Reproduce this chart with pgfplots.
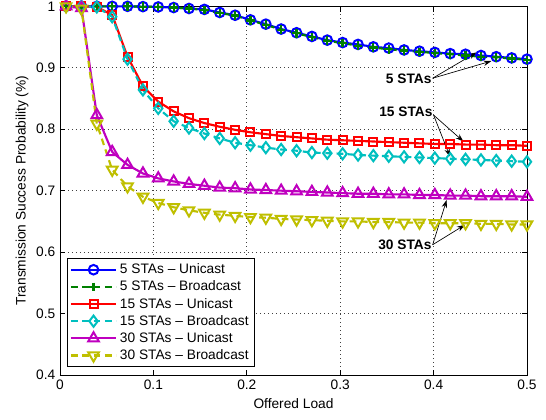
\documentclass[border=0pt]{standalone}
\usepackage{fontspec}
\setmainfont{Liberation Sans}
\usepackage{pgfplots}
\usepackage{pgfplotstable}
\pgfplotsset{compat=1.18}
\usetikzlibrary{arrows.meta}

\definecolor{mblue}{rgb}{0,0,1}
\definecolor{mgreen}{rgb}{0,0.5,0}
\definecolor{mred}{rgb}{1,0,0}
\definecolor{mcyan}{rgb}{0,0.75,0.75}
\definecolor{mmag}{rgb}{0.75,0,0.75}
\definecolor{myel}{rgb}{0.75,0.75,0}

\pgfplotstableread{
x u5 b5 u15 b15 u30 b30
0.0065 1.000 1.000 1.000 1.000 1.000 1.000
0.0230 1.000 1.000 1.000 1.000 0.997 0.996
0.0394 1.000 1.000 0.999 0.999 0.823 0.809
0.0559 1.000 1.000 0.986 0.983 0.763 0.734
0.0723 1.000 1.000 0.918 0.914 0.742 0.707
0.0888 0.9995 0.9995 0.870 0.864 0.728 0.690
0.1052 0.999 0.999 0.845 0.834 0.720 0.680
0.1217 0.998 0.998 0.829 0.813 0.715 0.673
0.1381 0.9965 0.9963 0.818 0.802 0.711 0.668
0.1546 0.995 0.994 0.810 0.793 0.708 0.664
0.1710 0.990 0.989 0.804 0.785 0.705 0.661
0.1875 0.9855 0.985 0.799 0.778 0.704 0.659
0.2039 0.978 0.977 0.795 0.774 0.702 0.657
0.2204 0.971 0.970 0.792 0.770 0.701 0.656
0.2368 0.963 0.962 0.789 0.767 0.700 0.654
0.2533 0.957 0.956 0.787 0.765 0.699 0.653
0.2697 0.951 0.950 0.785 0.762 0.698 0.652
0.2862 0.945 0.944 0.783 0.761 0.697 0.651
0.3026 0.941 0.940 0.782 0.760 0.696 0.650
0.3191 0.938 0.936 0.781 0.758 0.695 0.650
0.3355 0.934 0.933 0.780 0.757 0.695 0.649
0.3520 0.932 0.930 0.779 0.756 0.694 0.649
0.3684 0.929 0.928 0.778 0.755 0.694 0.648
0.3849 0.927 0.926 0.777 0.754 0.693 0.648
0.4013 0.925 0.924 0.776 0.753 0.693 0.647
0.4178 0.923 0.922 0.776 0.752 0.692 0.647
0.4342 0.922 0.920 0.775 0.751 0.692 0.647
0.4507 0.920 0.918 0.775 0.750 0.691 0.646
0.4671 0.918 0.917 0.774 0.749 0.691 0.646
0.4836 0.916 0.915 0.774 0.748 0.691 0.645
0.5000 0.914 0.913 0.773 0.747 0.690 0.645
}\data

\begin{document}
\begin{tikzpicture}
\begin{axis}[
  scale only axis,
  width=350.25pt, height=276.5pt,
  xmin=0, xmax=0.5, ymin=0.4, ymax=1,
  xtick={0,0.1,0.2,0.3,0.4,0.5},
  xticklabels={0,0.1,0.2,0.3,0.4,0.5},
  ytick={0.4,0.5,0.6,0.7,0.8,0.9,1},
  yticklabels={0.4,0.5,0.6,0.7,0.8,0.9,1},
  /pgf/number format/assume math mode=true,
  grid=major,
  major grid style={black!75, line width=0.5pt, dash pattern=on 0.6pt off 2.4pt},
  tick style={black, line width=0.5pt},
  major tick length=4pt,
  axis line style={line width=0.7pt},
  tick label style={font=\fontsize{10.3}{12}\selectfont},
  label style={font=\fontsize{10.3}{12}\selectfont},
  xlabel={Offered Load},
  ylabel={Transmission Success Probability (\%)},
  xlabel style={at={(axis description cs:0.5,-0.0786)}, anchor=center},
  ylabel style={at={(axis description cs:-0.0814,0.5)}, anchor=center},
  clip=false,
  legend cell align=left,
  legend style={at={(0.0143,0.021)}, anchor=south west, draw=black, line width=0.7pt,
    fill=white, font=\fontsize{10.3}{12}\selectfont, row sep=-0.1pt, inner sep=2pt},
  legend image code/.code={\draw[mark repeat=2,mark phase=2] plot coordinates {(0pt,0pt)(17pt,0pt)(34pt,0pt)};},
]
\coordinate (sw) at (rel axis cs:0,0);
\addplot[color=mblue, line width=1.6pt, mark=o, mark size=3.6pt, mark options={solid, line width=1.5pt}] table[x=x,y=u5]{\data};
\addlegendentry{5 STAs -- Unicast}
\addplot[color=mgreen, line width=1.6pt, dash pattern=on 5pt off 3.5pt, mark=+, mark size=3.2pt, mark options={solid, line width=1.7pt}] table[x=x,y=b5]{\data};
\addlegendentry{5 STAs -- Broadcast}
\addplot[color=mred, line width=1.6pt, mark=square, mark size=3pt, mark options={solid, line width=1.5pt}] table[x=x,y=u15]{\data};
\addlegendentry{15 STAs -- Unicast}
\addplot[color=mcyan, line width=1.6pt, dash pattern=on 5pt off 3.5pt, mark=diamond, mark size=4.2pt, mark options={solid, line width=1.5pt}] table[x=x,y=b15]{\data};
\addlegendentry{15 STAs -- Broadcast}
\addplot[color=mmag, line width=1.6pt, mark=triangle, mark size=4.6pt, mark options={solid, line width=1.5pt}] table[x=x,y=u30]{\data};
\addlegendentry{30 STAs -- Unicast}
\addplot[color=myel, line width=1.6pt, dash pattern=on 5pt off 3.5pt, mark=triangle, mark size=4.6pt, mark options={solid, rotate=180, line width=1.5pt}] table[x=x,y=b30]{\data};
\addlegendentry{30 STAs -- Broadcast}

\node[anchor=east, font=\fontsize{10.3}{12}\selectfont\bfseries, inner sep=1pt] at (axis cs:0.3995,0.8818) {5 STAs};
\draw[-{Stealth[length=6pt,width=4pt]}, line width=0.5pt] (axis cs:0.399,0.883) -- (axis cs:0.446,0.925);
\draw[-{Stealth[length=6pt,width=4pt]}, line width=0.5pt] (axis cs:0.399,0.883) -- (axis cs:0.462,0.911);
\node[anchor=east, font=\fontsize{10.3}{12}\selectfont\bfseries, inner sep=1pt] at (axis cs:0.4005,0.8276) {15 STAs};
\draw[-{Stealth[length=6pt,width=4pt]}, line width=0.5pt] (axis cs:0.400,0.823) -- (axis cs:0.432,0.780);
\draw[-{Stealth[length=6pt,width=4pt]}, line width=0.5pt] (axis cs:0.400,0.823) -- (axis cs:0.4176,0.7555);
\node[anchor=east, font=\fontsize{10.3}{12}\selectfont\bfseries, inner sep=1pt] at (axis cs:0.3995,0.612) {30 STAs};
\draw[-{Stealth[length=6pt,width=4pt]}, line width=0.5pt] (axis cs:0.399,0.612) -- (axis cs:0.414,0.685);
\draw[-{Stealth[length=6pt,width=4pt]}, line width=0.5pt] (axis cs:0.399,0.612) -- (axis cs:0.4336,0.6444);
\end{axis}
\pgfresetboundingbox
\path (sw) ++(-45pt,-33.75pt) rectangle ++(409.5pt,315pt);
\end{tikzpicture}
\end{document}
